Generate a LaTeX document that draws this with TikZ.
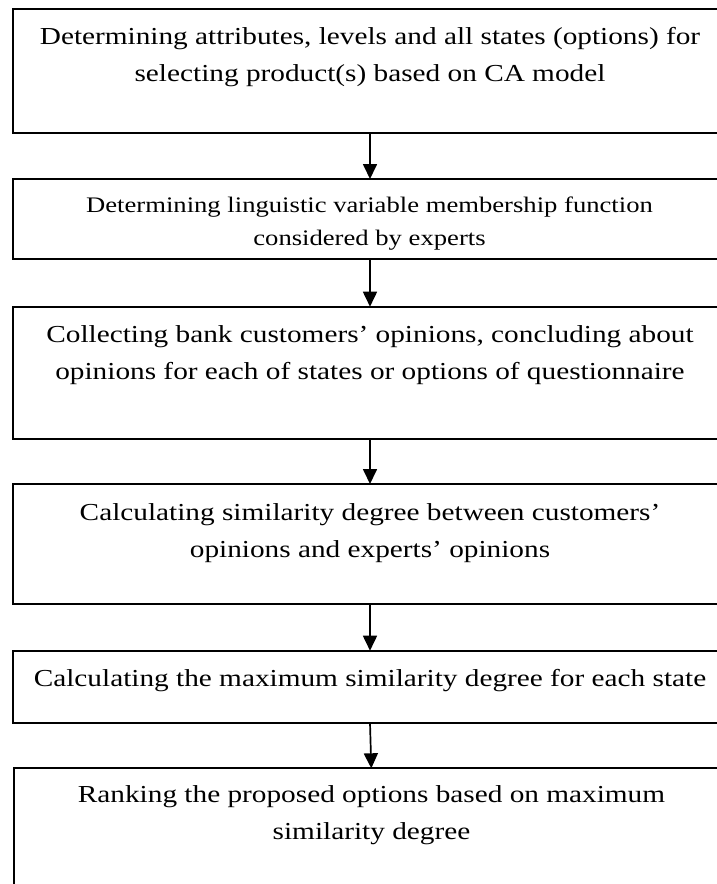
\documentclass[tikz,border=0pt]{standalone}
\usepackage{fontspec}
\setmainfont[FakeStretch=1.2]{Liberation Serif}
\usetikzlibrary{arrows.meta}
\begin{document}
\begin{tikzpicture}[x=1pt,y=-1pt,
  boxs/.style={draw=black, line width=1.7pt, minimum width=714.6pt, inner sep=0pt, outer sep=0pt, anchor=north west},
  lbl/.style={inner sep=0pt, anchor=base, font=\fontsize{24.4}{37}\selectfont},
  lblsmall/.style={lbl, font=\fontsize{22.2}{33}\selectfont},
  arr/.style={-{Triangle[length=15pt,width=14pt]}, line width=1.7pt}]
\useasboundingbox (0,0) rectangle (717,884);
\clip (0,0) rectangle (717,884);
\node[boxs, minimum height=123.4pt] (b1) at (12.7,9.3) {};
\node[boxs, minimum height=80.3pt] (b2) at (12.7,179) {};
\node[boxs, minimum height=132pt] (b3) at (12.7,306.7) {};
\node[boxs, minimum height=120pt] (b4) at (12.7,484) {};
\node[boxs, minimum height=72pt] (b5) at (12.7,650.7) {};
\node[boxs, minimum height=140pt] (b6) at (14,768.3) {};
\node[lbl] (t1) at (370,44) {\parbox[t]{710pt}{\centering Determining attributes, levels and all states (options) for\\selecting product(s) based on CA model}};
\node[lblsmall] (t2) at (369.5,212) {\parbox[t]{710pt}{\centering Determining linguistic variable membership function\\considered by experts}};
\node[lbl] (t3) at (370,342.3) {\parbox[t]{710pt}{\centering Collecting bank customers’ opinions, concluding about\\opinions for each of states or options of questionnaire}};
\node[lbl] (t4) at (370,520.7) {\parbox[t]{710pt}{\centering Calculating similarity degree between customers’\\opinions and experts’ opinions}};
\node[lbl] (t5) at (370,686) {\parbox[t]{710pt}{\centering Calculating the maximum similarity degree for each state}};
\node[lbl] (t6) at (371.5,802.7) {\parbox[t]{710pt}{\centering Ranking the proposed options based on maximum\\similarity degree}};
\draw[arr] (b1.south) -- (b2.north);
\draw[arr] (b2.south) -- (b3.north);
\draw[arr] (b3.south) -- (b4.north);
\draw[arr] (b4.south) -- (b5.north);
\draw[arr] (b5.south) -- (b6.north);
\end{tikzpicture}
\end{document}
